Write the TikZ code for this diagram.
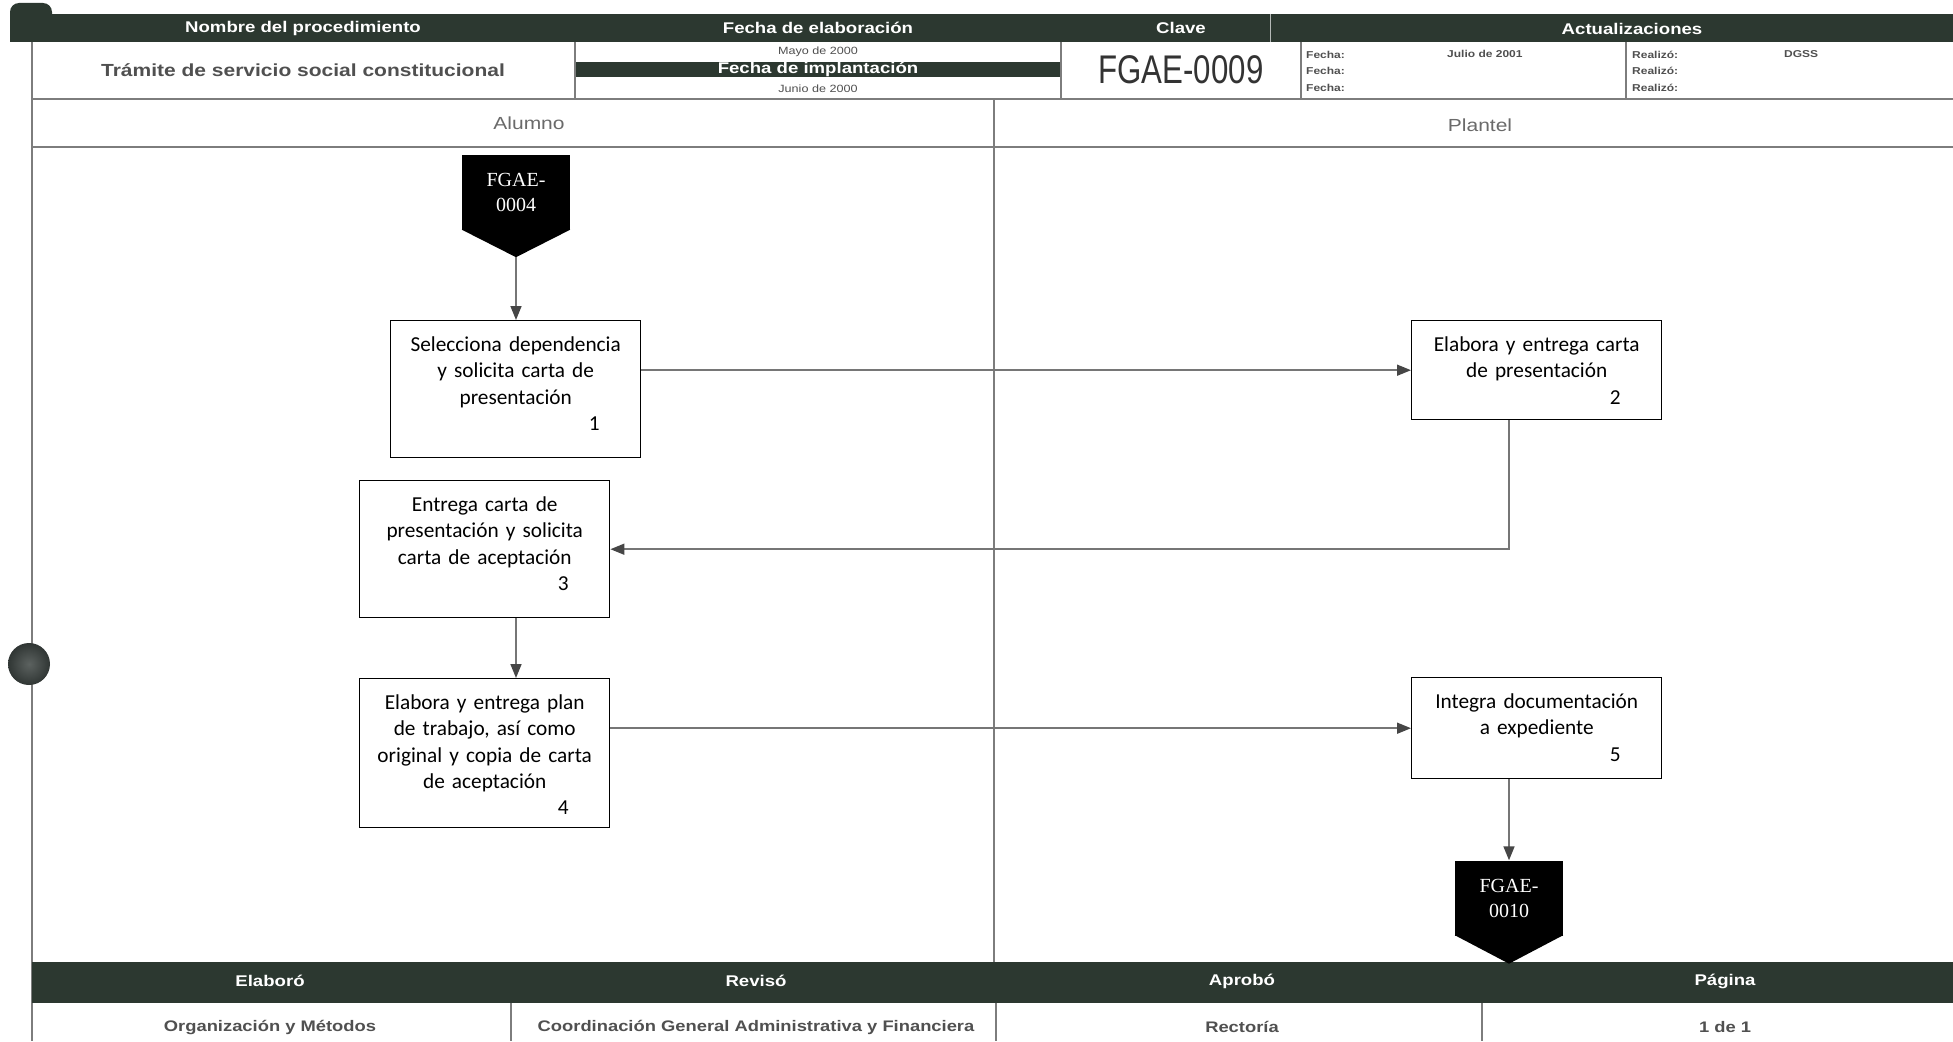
\documentclass[tikz,border=0pt]{standalone}
\usepackage{fontspec}
\setmainfont{Carlito}
\newfontfamily\hdrfont[FakeStretch=1.2]{Liberation Sans}
\newfontfamily\clavefont[FakeStretch=0.78]{Liberation Sans}
\newfontfamily\connfont{Liberation Serif}
\usetikzlibrary{arrows.meta,calc}

\definecolor{band}{RGB}{44,56,48}
\definecolor{rulegray}{RGB}{125,125,125}
\definecolor{ink}{RGB}{80,80,80}
\definecolor{arrowline}{RGB}{118,118,118}
\definecolor{arrowhead}{RGB}{70,70,70}
\definecolor{holeinner}{RGB}{92,98,96}
\definecolor{holeouter}{RGB}{48,54,52}

\begin{document}
\begin{tikzpicture}[x=1pt,y=-1pt,
  stepbox/.style={draw=black, line width=1.4pt, fill=white, anchor=north west,
    text width=230pt, inner xsep=10pt, inner ysep=0pt, align=center,
    text height=31pt, font=\fontsize{21.3}{26.2}\selectfont},
  pagebox/.style={fill=black, text=white, minimum width=108pt, minimum height=75pt,
    inner sep=0pt, align=center, font=\connfont\fontsize{20}{25}\selectfont},
  flow/.style={draw=arrowline, line width=1.6pt,
    -{Triangle[length=14pt,width=11pt,color=arrowhead]}},
  bandtext/.style={text=white, inner sep=0pt,
    font=\hdrfont\bfseries\fontsize{15.5}{18}\selectfont},
  celltext/.style={text=ink, inner sep=0pt},
  smalltext/.style={text=ink, inner sep=0pt, anchor=west,
    font=\hdrfont\bfseries\fontsize{10}{12}\selectfont},
  lanetext/.style={text=ink!85, inner sep=0pt,
    font=\hdrfont\fontsize{17.5}{20}\selectfont},
  foottext/.style={text=ink, inner sep=0pt,
    font=\hdrfont\bfseries\fontsize{15.3}{18}\selectfont},
  gridline/.style={draw=rulegray, line width=1.3pt},
  heavyline/.style={draw=rulegray, line width=2pt}
]
\useasboundingbox (0,0) rectangle (1953,1041);
\fill[white] (0,0) rectangle (1953,1041);

% ---- header band ----
\fill[band, rounded corners=9pt] (10,3) rectangle (52,42);
\fill[band] (10,14) rectangle (1953,42);
\draw[white!65!band, line width=1pt] (1270,14) -- (1270,42);
\node[bandtext] (hNombre) at (303,28) {Nombre del procedimiento};
\node[bandtext] (hFecha) at (818,28) {Fecha de elaboración};
\node[bandtext] (hClave) at (1181,28) {Clave};
\node[bandtext] (hAct) at (1632,29) {Actualizaciones};

% ---- header data row ----
\node[celltext, font=\hdrfont\bfseries\fontsize{17.5}{20}\selectfont] (tTramite) at (303,70)
  {Trámite de servicio social constitucional};
\node[celltext, font=\hdrfont\fontsize{10.5}{12}\selectfont] (tMayo) at (818,52) {Mayo de 2000};
\node[fill=band, minimum width=486pt, minimum height=15pt, bandtext] (tImpl) at (818,69.5)
  {Fecha de implantación};
\node[celltext, font=\hdrfont\fontsize{10.5}{12}\selectfont] (tJunio) at (818,89) {Junio de 2000};
\node[text=black!80, inner sep=0pt, font=\clavefont\fontsize{40}{44}\selectfont] (tClave) at (1181,70)
  {FGAE-0009};
\node[smalltext] (tF1) at (1306,55) {Fecha:};
\node[smalltext] (tF2) at (1306,71) {Fecha:};
\node[smalltext] (tF3) at (1306,88) {Fecha:};
\node[smalltext] (tJulio) at (1447,54) {Julio de 2001};
\node[smalltext] (tR1) at (1632,55) {Realizó:};
\node[smalltext] (tR2) at (1632,71) {Realizó:};
\node[smalltext] (tR3) at (1632,88) {Realizó:};
\node[smalltext] (tDGSS) at (1784,54) {DGSS};

% ---- grid lines ----
\draw[gridline] (575,42) -- (575,99);
\draw[gridline] (1061,42) -- (1061,99);
\draw[gridline] (1301,42) -- (1301,99);
\draw[gridline] (1626,42) -- (1626,99);
\draw[heavyline] (32,99) -- (1953,99);
\draw[heavyline] (32,147) -- (1953,147);
\draw[gridline] (994,99) -- (994,962);
\draw[gridline] (32,42) -- (32,1041);

% ---- lane titles ----
\node[lanetext] (lAlumno) at (529,123) {Alumno};
\node[lanetext] (lPlantel) at (1480,125) {Plantel};

% ---- footer ----
\fill[band] (32,962) rectangle (1953,1003);
\node[bandtext] (fElaboro) at (270,981) {Elaboró};
\node[bandtext] (fReviso) at (756,981) {Revisó};
\node[bandtext] (fAprobo) at (1242,981) {Aprobó};
\node[bandtext] (fPagina) at (1725,981) {Página};
\draw[gridline] (511,1003) -- (511,1041);
\draw[gridline] (996,1003) -- (996,1041);
\draw[gridline] (1482,1003) -- (1482,1041);
\node[foottext] (fOrg) at (270,1027) {Organización y Métodos};
\node[foottext] (fCoord) at (756,1027) {Coordinación General Administrativa y Financiera};
\node[foottext] (fRect) at (1242,1027) {Rectoría};
\node[foottext] (fPag) at (1725,1027) {1 de 1};

% ---- binder hole ----
\shade[inner color=holeinner, outer color=holeouter] (29,664) circle[radius=21];

% ---- off-page connectors ----
\node[pagebox] (c4) at (516,192.5) {FGAE-\\0004};
\coordinate (c4tip) at ($(c4.south)+(0,27)$);
\fill ($(c4.south west)+(0,-0.5)$) -- (c4tip) -- ($(c4.south east)+(0,-0.5)$) -- cycle;

\node[pagebox] (c10) at (1509,898) {FGAE-\\0010};
\coordinate (c10tip) at ($(c10.south)+(0,28)$);
\fill ($(c10.south west)+(0,-0.5)$) -- (c10tip) -- ($(c10.south east)+(0,-0.5)$) -- cycle;

% ---- process steps (first baseline 31pt below the top edge) ----
\node[stepbox, text depth=106pt] (b1) at (390,320)
  {Selecciona dependencia\\y solicita carta de\\presentación\\\hfill 1\kern31pt\mbox{}};
\node[stepbox, text depth=68pt] (b2) at (1411,320)
  {Elabora y entrega carta\\de presentación\\\hfill 2\kern31pt\mbox{}};
\node[stepbox, text depth=106pt] (b3) at (359,480)
  {Entrega carta de\\presentación y solicita\\carta de aceptación\\\hfill 3\kern31pt\mbox{}};
\node[stepbox, text depth=118pt] (b4) at (359,678)
  {Elabora y entrega plan\\de trabajo, así como\\original y copia de carta\\de aceptación\\\hfill 4\kern31pt\mbox{}};
\node[stepbox, text depth=70pt] (b5) at (1411,677)
  {Integra documentación\\a expediente\\\hfill 5\kern31pt\mbox{}};

% ---- connectors ----
\draw[flow] (c4tip) -- (c4tip |- b1.north);
\draw[flow] (b1.east |- b2.west) -- (b2.west);
\draw[flow] (b2.south -| c10.north) |- (b3.east);
\draw[flow] (b3.south -| c4tip) -- (b4.north -| c4tip);
\draw[flow] (b4.east |- b5.west) -- (b5.west);
\draw[flow] (b5.south -| c10.north) -- (c10.north);
\end{tikzpicture}
\end{document}
